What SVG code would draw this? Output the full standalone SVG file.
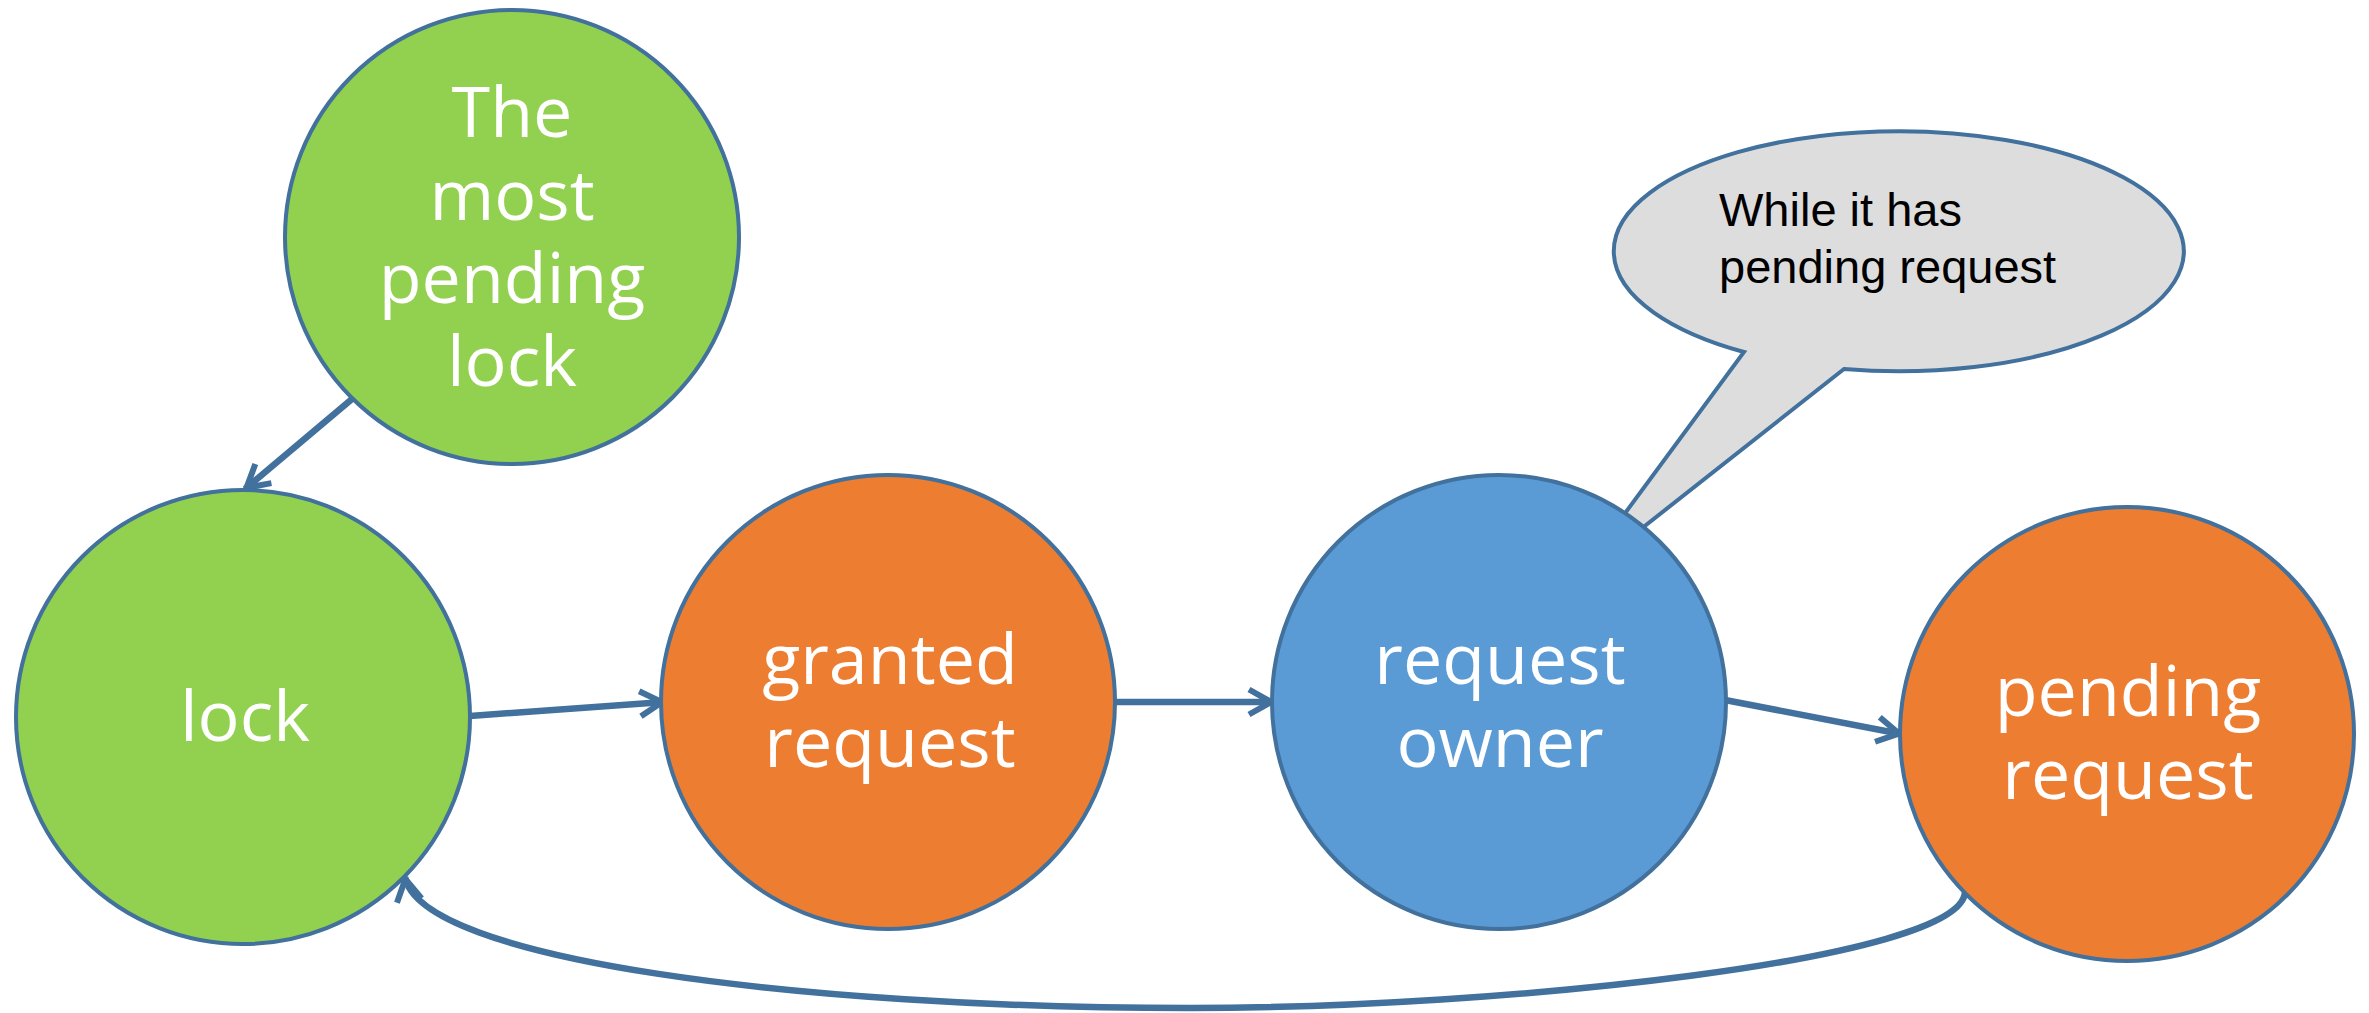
<svg xmlns="http://www.w3.org/2000/svg" width="2369" height="1013" viewBox="0 0 2369 1013">
  <style>
    .node { stroke: #41719C; stroke-width: 4; }
    .green { fill: #92D050; }
    .orange { fill: #ED7D31; }
    .blue { fill: #5B9BD5; }
    .label { font-family: "Open Sans", "Liberation Sans", sans-serif; font-size: 70px; fill: #FFFFFF; text-anchor: middle; }
    .edge { fill: none; stroke: #41719C; stroke-width: 6.5; }
    .note { font-family: "Liberation Sans", Arial, sans-serif; font-size: 47px; fill: #000000; }
  </style>
  <defs>
    <!-- open chevron arrowhead shared by all connectors -->
    <marker id="arrow" viewBox="0 0 32 32" refX="28" refY="16" markerWidth="32" markerHeight="32" markerUnits="userSpaceOnUse" orient="auto" overflow="visible">
      <path d="M4,3.5 L26,16 L4,28.5" fill="none" stroke="#41719C" stroke-width="6"/>
    </marker>
  </defs>

  <!-- callout bubble (drawn beneath the request owner node) -->
  <g id="note-pending">
    <path d="M1744,352 A285,120 0 1 1 1844,369 L1575,581 Z" fill="#DDDDDD" stroke="#41719C" stroke-width="4" stroke-linejoin="miter"/>
    <text class="note" x="1719" y="226">While it has</text>
    <text class="note" x="1719" y="283">pending request</text>
  </g>

  <!-- connectors -->
  <g id="connectors">
    <line class="edge" x1="352" y1="399" x2="245" y2="489" marker-end="url(#arrow)"/>
    <line class="edge" x1="470" y1="716" x2="664" y2="702" marker-end="url(#arrow)"/>
    <line class="edge" x1="1113" y1="702" x2="1273" y2="702" marker-end="url(#arrow)"/>
    <line class="edge" x1="1725" y1="700" x2="1901" y2="734" marker-end="url(#arrow)"/>
    <path class="edge" d="M1965,892 C1962,960 1500,1008 1190,1008 C800,1008 420,960 405,877" marker-end="url(#arrow)"/>
  </g>

  <g id="most-pending-lock">
    <circle class="node green" cx="512" cy="237" r="227"/>
    <text class="label" x="512" y="137">The</text>
    <text class="label" x="512" y="220">most</text>
    <text class="label" x="512" y="303">pending</text>
    <text class="label" x="512" y="386">lock</text>
  </g>

  <g id="lock">
    <circle class="node green" cx="243" cy="717" r="227"/>
    <text class="label" x="245" y="741">lock</text>
  </g>

  <g id="granted-request">
    <circle class="node orange" cx="888" cy="702" r="227"/>
    <text class="label" x="890" y="684">granted</text>
    <text class="label" x="890" y="767">request</text>
  </g>

  <g id="request-owner">
    <circle class="node blue" cx="1499" cy="702" r="227"/>
    <text class="label" x="1500" y="684">request</text>
    <text class="label" x="1500" y="767">owner</text>
  </g>

  <g id="pending-request">
    <circle class="node orange" cx="2127" cy="734" r="227"/>
    <text class="label" x="2128" y="716">pending</text>
    <text class="label" x="2128" y="799">request</text>
  </g>
</svg>
